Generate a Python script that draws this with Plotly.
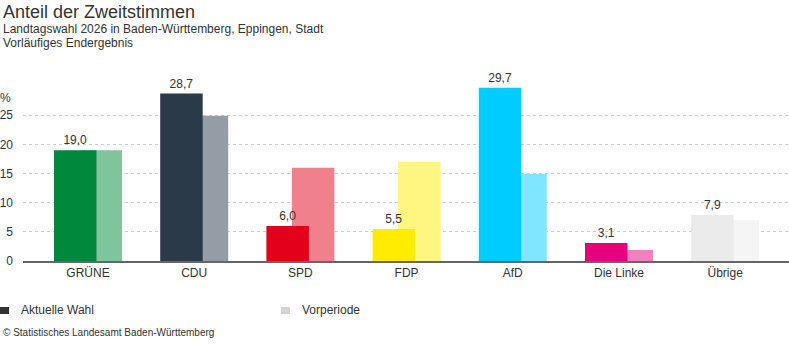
import plotly.graph_objects as go

parties = ["GRÜNE", "CDU", "SPD", "FDP", "AfD", "Die Linke", "Übrige"]
current = [19.0, 28.7, 6.0, 5.5, 29.7, 3.1, 7.9]
previous = [19.0, 24.9, 16.0, 17.0, 14.9, 1.9, 7.0]
colors_current = ["#00893c", "#2b3a48", "#e2001a", "#ffec00", "#00ccff", "#e6007e", "#ebebeb"]
colors_previous = ["#80c49d", "#959ca4", "#f0818c", "#fff580", "#80e5ff", "#f280be", "#f5f5f5"]
ytick_vals = [0, 5, 10, 15, 20, 25]

W, H = 789, 352
L, R, T, B = 23, 0, 86, 91
PW, PH = W - L - R, H - T - B


def xp(px):
    return (px - L) / PW


def yp(py):
    return (H - B - py) / PH


FONT = "Liberation Sans, Arial, sans-serif"

fig = go.Figure()
# previous period drawn first (behind), current election overlaps it on top
fig.add_trace(go.Bar(
    x=parties, y=previous, name="Vorperiode",
    marker=dict(color=colors_previous, line=dict(width=0)),
    width=0.40, offset=-0.08,
    showlegend=False,
))
fig.add_trace(go.Bar(
    x=parties, y=current, name="Aktuelle Wahl",
    marker=dict(color=colors_current, line=dict(width=0)),
    width=0.40, offset=-0.32,
    texttemplate="%{y:.1f}", textposition="outside",
    textfont=dict(size=12, color="#333333", family=FONT),
    cliponaxis=False, showlegend=False,
))

annotations = [
    dict(text="Anteil der Zweitstimmen", x=xp(1), y=yp(0), xanchor="left", yanchor="top",
         font=dict(size=18, color="#333333", family=FONT)),
    dict(text="Landtagswahl 2026 in Baden-Württemberg, Eppingen, Stadt", x=xp(1), y=yp(20),
         xanchor="left", yanchor="top", font=dict(size=12, color="#333333", family=FONT)),
    dict(text="Vorläufiges Endergebnis", x=xp(1), y=yp(34), xanchor="left", yanchor="top",
         font=dict(size=12, color="#333333", family=FONT)),
    dict(text="%", x=xp(13), y=yp(89), xanchor="right", yanchor="top",
         font=dict(size=12, color="#333333", family=FONT)),
    dict(text="Aktuelle Wahl", x=xp(19), y=yp(310), xanchor="left", yanchor="middle",
         font=dict(size=12, color="#333333", family=FONT)),
    dict(text="Vorperiode", x=xp(300), y=yp(310), xanchor="left", yanchor="middle",
         font=dict(size=12, color="#333333", family=FONT)),
    dict(text="© Statistisches Landesamt Baden-Württemberg", x=xp(1), y=yp(332),
         xanchor="left", yanchor="middle", font=dict(size=10, color="#333333", family=FONT)),
]
for a in annotations:
    a.update(xref="paper", yref="paper", showarrow=False)

shapes = [
    dict(type="rect", xref="paper", yref="paper", x0=xp(-1), x1=xp(9), y0=yp(307), y1=yp(314),
         fillcolor="#333333", line=dict(width=0)),
    dict(type="rect", xref="paper", yref="paper", x0=xp(281), x1=xp(290), y0=yp(307), y1=yp(314),
         fillcolor="#d3d3d3", line=dict(width=0)),
]

fig.update_layout(
    width=W, height=H,
    margin=dict(l=L, r=R, t=T, b=B, pad=0),
    paper_bgcolor="white", plot_bgcolor="white",
    separators=",.",
    barmode="overlay",
    font=dict(family=FONT, size=12, color="#333333"),
    annotations=annotations, shapes=shapes,
    xaxis=dict(range=[-0.612, 6.601], showgrid=False, showline=True, linecolor="#666666",
               linewidth=1.5, ticks="", tickfont=dict(size=12, color="#333333"), fixedrange=True),
    yaxis=dict(range=[0, 30], tickvals=ytick_vals, showgrid=True, gridcolor="#cccccc",
               griddash="dot", gridwidth=1, zeroline=False, ticks="", ticklabelstandoff=9,
               tickfont=dict(size=12, color="#333333"), fixedrange=True),
)

fig.write_html("out.html")
